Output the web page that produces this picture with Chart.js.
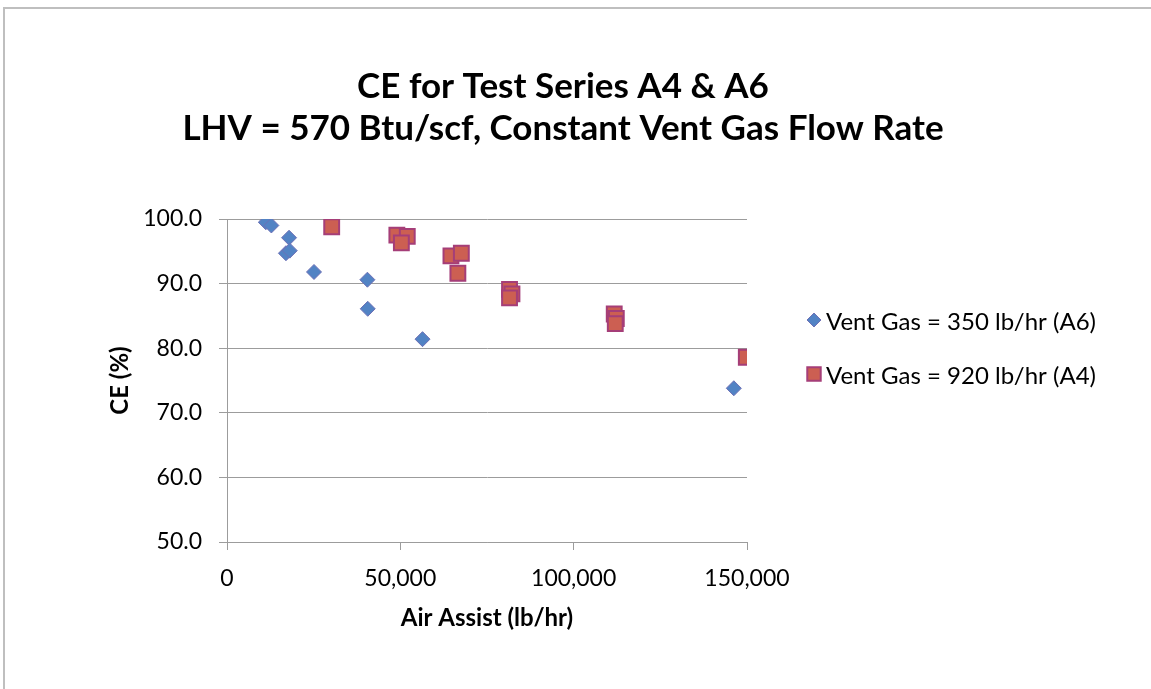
<!DOCTYPE html>
<html>
<head>
<meta charset="utf-8">
<script src="https://cdn.jsdelivr.net/npm/chart.js@4/dist/chart.umd.min.js"></script>
<style>
  html, body { margin: 0; padding: 0; background: #fff; }
  #wrap { width: 1151px; height: 689px; position: relative; }
</style>
</head>
<body>
<div id="wrap"><canvas id="c" width="1151" height="689"></canvas></div>
<script>
// ---- data ----
const titleLines = ["CE for Test Series A4 & A6", "LHV = 570 Btu/scf, Constant Vent Gas Flow Rate"];
const xTitle = "Air Assist (lb/hr)";
const yTitle = "CE (%)";
const seriesNames = ["Vent Gas = 350 lb/hr (A6)", "Vent Gas = 920 lb/hr (A4)"];

const a6X = [11200, 12800, 17900, 17000, 18100, 25100, 40500, 40600, 56400, 146200];
const a6Y = [99.5, 99.0, 97.1, 94.7, 95.1, 91.8, 90.6, 86.1, 81.4, 73.8];

const a4X = [30200, 49000, 52000, 50300, 64600, 67600, 66600, 81500, 82200, 81500, 111700, 112300, 112000, 149800];
const a4Y = [98.8, 97.5, 97.3, 96.3, 94.3, 94.7, 91.6, 89.1, 88.4, 87.8, 85.3, 84.6, 83.8, 78.6];

const xMin = 0, xMax = 150000, xStep = 50000;
const yMin = 50, yMax = 100, yStep = 10;

// ---- styles ----
const FONT = "Lato, 'Open Sans', sans-serif";
const blueFill = '#5283C4', blueLine = '#6E70B6';
const redFill = '#CC5F52', redLine = '#A53E78';
const gridColor = '#9C9C9C';

function pts(xs, ys) { return xs.map((x, i) => ({ x: x, y: ys[i] })); }

const decor = {
  id: 'decor',
  beforeDraw(chart) {
    const ctx = chart.ctx;
    ctx.save();
    ctx.fillStyle = '#fff';
    ctx.fillRect(0, 0, chart.width, chart.height);
    ctx.strokeStyle = '#BFBFBF';
    ctx.lineWidth = 2;
    ctx.beginPath();
    ctx.moveTo(4, 700);
    ctx.lineTo(4, 8);
    ctx.lineTo(1160, 8);
    ctx.stroke();
    ctx.restore();
  },
  afterDraw(chart) {
    const ctx = chart.ctx;
    ctx.save();
    // title
    ctx.fillStyle = '#000';
    ctx.textAlign = 'center';
    ctx.textBaseline = 'alphabetic';
    ctx.font = "bold 35px " + FONT;
    ctx.fillText(titleLines[0], 563, 98);
    ctx.fillText(titleLines[1], 563, 140);
    // legend
    const items = [
      { y: 320, shape: 'rectRot', r: 7, fill: blueFill, line: blueLine, bw: 1 },
      { y: 374, shape: 'rect', r: 9.5, fill: redFill, line: redLine, bw: 2 }
    ];
    ctx.font = "24px " + FONT;
    ctx.textAlign = 'left';
    ctx.textBaseline = 'middle';
    items.forEach((it, i) => {
      ctx.fillStyle = it.fill;
      ctx.strokeStyle = it.line;
      ctx.lineWidth = it.bw;
      Chart.helpers.drawPoint(ctx, { pointStyle: it.shape, radius: it.r, borderWidth: it.bw, rotation: 0 }, 814, it.y);
      ctx.fillStyle = '#000';
      ctx.fillText(seriesNames[i], 826, it.y + 2);
    });
    ctx.restore();
  }
};

new Chart(document.getElementById('c'), {
  type: 'scatter',
  data: {
    datasets: [
      {
        label: seriesNames[0],
        data: pts(a6X, a6Y),
        pointStyle: 'rectRot',
        pointRadius: 7.5,
        pointHoverRadius: 7.5,
        backgroundColor: blueFill,
        borderColor: blueLine,
        borderWidth: 1
      },
      {
        label: seriesNames[1],
        data: pts(a4X, a4Y),
        pointStyle: 'rect',
        pointRadius: 10.5,
        pointHoverRadius: 10.5,
        backgroundColor: redFill,
        borderColor: redLine,
        borderWidth: 2
      }
    ]
  },
  options: {
    responsive: false,
    animation: false,
    events: [],
    layout: { padding: { left: 102, right: 404, top: 219, bottom: 52 } },
    plugins: {
      legend: { display: false },
      title: { display: false },
      tooltip: { enabled: false }
    },
    scales: {
      x: {
        type: 'linear',
        min: xMin, max: xMax,
        afterFit(s) { s.height = 95; },
        ticks: {
          stepSize: xStep,
          padding: 15,
          color: '#000',
          font: { family: FONT, size: 23 },
          maxRotation: 0,
          callback: v => Number(v).toLocaleString('en-US')
        },
        grid: { drawOnChartArea: false, drawTicks: true, tickLength: 8, color: gridColor },
        border: { display: true, color: gridColor },
        title: {
          display: true, text: xTitle, color: '#000',
          font: { family: FONT, size: 24, weight: 'bold' },
          padding: { top: 0, bottom: 4 }
        }
      },
      y: {
        type: 'linear',
        min: yMin, max: yMax,
        afterFit(s) { s.width = 125; },
        ticks: {
          stepSize: yStep,
          padding: 17,
          color: '#000',
          font: { family: FONT, size: 23 },
          callback: v => Number(v).toFixed(1)
        },
        grid: { color: gridColor, tickLength: 8, drawTicks: true },
        border: { display: true, color: gridColor },
        title: {
          display: true, text: yTitle, color: '#000',
          font: { family: FONT, size: 24, weight: 'bold' },
          padding: { top: 4, bottom: 0 }
        }
      }
    }
  },
  plugins: [decor]
});
</script>
</body>
</html>
